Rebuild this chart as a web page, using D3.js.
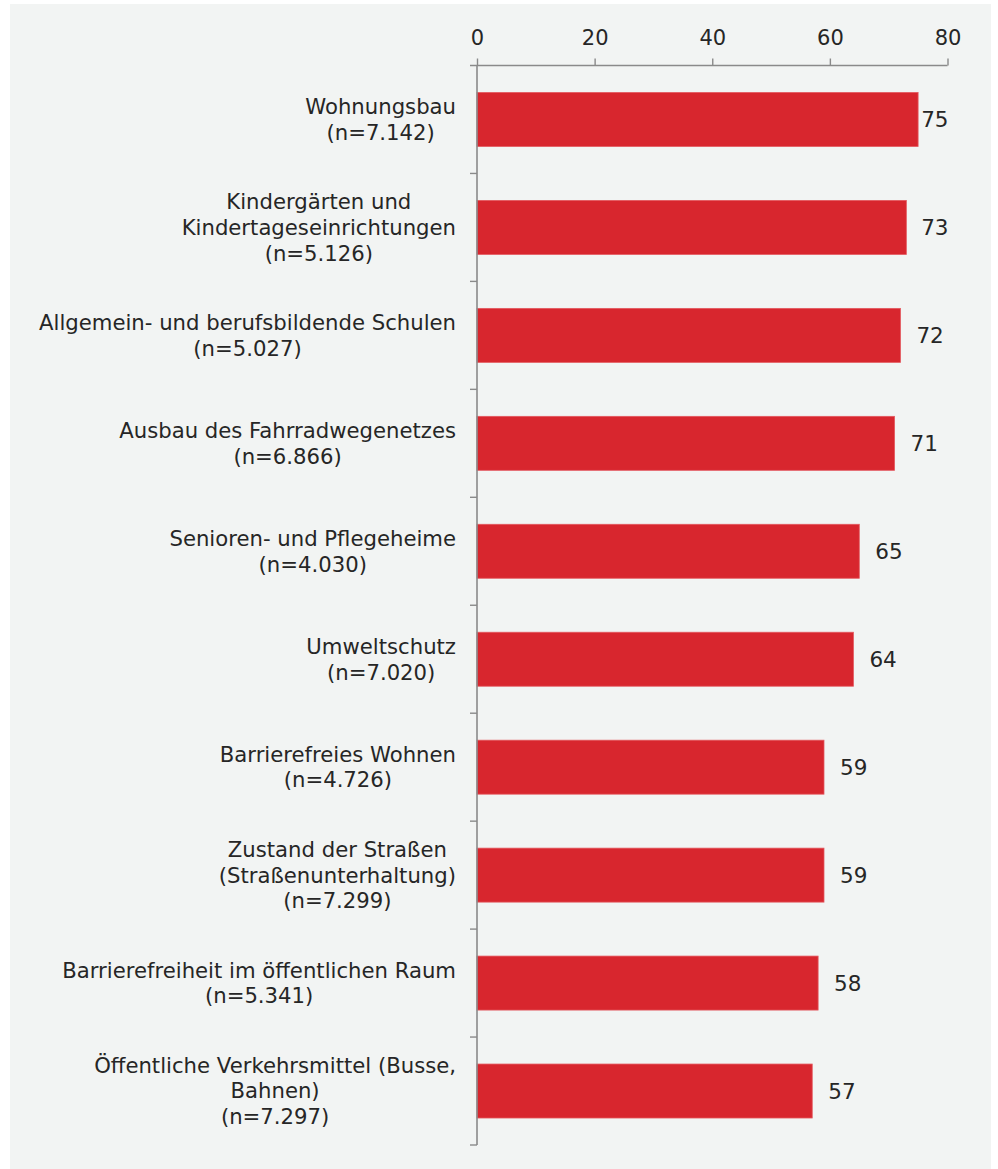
<!DOCTYPE html>
<html lang="de">
<head>
<meta charset="utf-8">
<title>Investitionsbedarf</title>
<script src="https://cdn.jsdelivr.net/npm/d3@7"></script>
<style>
  html, body { margin: 0; padding: 0; background: #ffffff; }
  svg { display: block; }
  text { font-family: "DejaVu Sans", Verdana, sans-serif; fill: #262626; }
</style>
</head>
<body>
<svg id="chart" width="998" height="1169"></svg>
<script>
// Categories (line breaks mark the wrapping of the axis labels)
const categories = [
  "Wohnungsbau",
  "Kindergärten und\nKindertageseinrichtungen",
  "Allgemein- und berufsbildende Schulen",
  "Ausbau des Fahrradwegenetzes",
  "Senioren- und Pflegeheime",
  "Umweltschutz",
  "Barrierefreies Wohnen",
  "Zustand der Straßen\n(Straßenunterhaltung)",
  "Barrierefreiheit im öffentlichen Raum",
  "Öffentliche Verkehrsmittel (Busse,\nBahnen)"
];
// Number of respondents per category
const sampleSizes = ["7.142", "5.126", "5.027", "6.866", "4.030", "7.020", "4.726", "7.299", "5.341", "7.297"];
// Share in percent
const values = [75, 73, 72, 71, 65, 64, 59, 59, 58, 57];
// Axis ticks
const tickValues = [0, 20, 40, 60, 80];

const svg = d3.select("#chart");

// Panel background
svg.append("rect")
  .attr("x", 10).attr("y", 4)
  .attr("width", 981).attr("height", 1165)
  .attr("fill", "#f2f4f3");

const plot = { left: 477, right: 947.5, top: 65.5, bottom: 1145 };

const x = d3.scaleLinear().domain([0, 80]).range([plot.left, plot.right]);
const y = d3.scaleBand()
  .domain(d3.range(categories.length))
  .range([plot.top, plot.bottom])
  .paddingInner(0.5)
  .paddingOuter(0.25);

const axisColor = "#8a8a8a";

// Bars
svg.append("g").selectAll("rect")
  .data(values)
  .join("rect")
  .attr("x", x(0))
  .attr("y", (d, i) => y(i))
  .attr("width", d => x(d) - x(0))
  .attr("height", y.bandwidth())
  .attr("fill", "#d8262e")
  .attr("stroke", "#e4585e")
  .attr("stroke-width", 0.8);

// Top value axis
const xAxis = svg.append("g")
  .attr("transform", `translate(0,${plot.top})`)
  .call(d3.axisTop(x).tickValues(tickValues).tickSize(7).tickPadding(14).tickSizeOuter(0));
xAxis.select(".domain").attr("stroke", axisColor).attr("stroke-width", 1.6)
  .attr("d", `M${plot.left - 7},0H${plot.right}`);
xAxis.selectAll(".tick line").attr("stroke", axisColor).attr("stroke-width", 1.4);
xAxis.selectAll(".tick text")
  .attr("fill", "#262626")
  .style("font-size", "21px")
  .style("font-family", "'DejaVu Sans', Verdana, sans-serif");

// Category axis line with tick marks between the bands
const step = y.step();
const boundaries = d3.range(categories.length + 1).map(i => plot.top + i * step);
const yAxis = svg.append("g");
yAxis.append("line")
  .attr("x1", plot.left).attr("x2", plot.left)
  .attr("y1", plot.top).attr("y2", plot.bottom)
  .attr("stroke", axisColor).attr("stroke-width", 1.6);
yAxis.selectAll("line.tick")
  .data(boundaries.slice(1))
  .join("line")
  .attr("class", "tick")
  .attr("x1", plot.left - 7).attr("x2", plot.left)
  .attr("y1", d => d).attr("y2", d => d)
  .attr("stroke", axisColor).attr("stroke-width", 1.4);

// Category labels: lines centred on each other, block right-aligned to the axis
const labelRight = 456;
const lineHeight = 25.8;
const labelFont = 21.2;
const labelGroup = svg.append("g").style("font-size", labelFont + "px");
categories.forEach((cat, i) => {
  const lines = cat.split("\n").concat(`(n=${sampleSizes[i]})`);
  const cy = y(i) + y.bandwidth() / 2;
  const g = labelGroup.append("g");
  const texts = lines.map((line, k) =>
    g.append("text")
      .attr("text-anchor", "middle")
      .attr("y", cy + (k - (lines.length - 1) / 2) * lineHeight)
      .attr("dy", "0.35em")
      .text(line)
  );
  const widest = d3.max(texts, t => t.node().getComputedTextLength());
  texts.forEach(t => t.attr("x", labelRight - widest / 2));
});

// Value labels at the bar ends, kept inside the plot area
const valueGroup = svg.append("g").style("font-size", "21.5px");
values.forEach((v, i) => {
  const t = valueGroup.append("text")
    .attr("y", y(i) + y.bandwidth() / 2)
    .attr("dy", "0.35em")
    .text(v);
  const w = t.node().getComputedTextLength();
  t.attr("x", Math.min(x(v) + 16, plot.right - w + 1));
});
</script>
</body>
</html>
